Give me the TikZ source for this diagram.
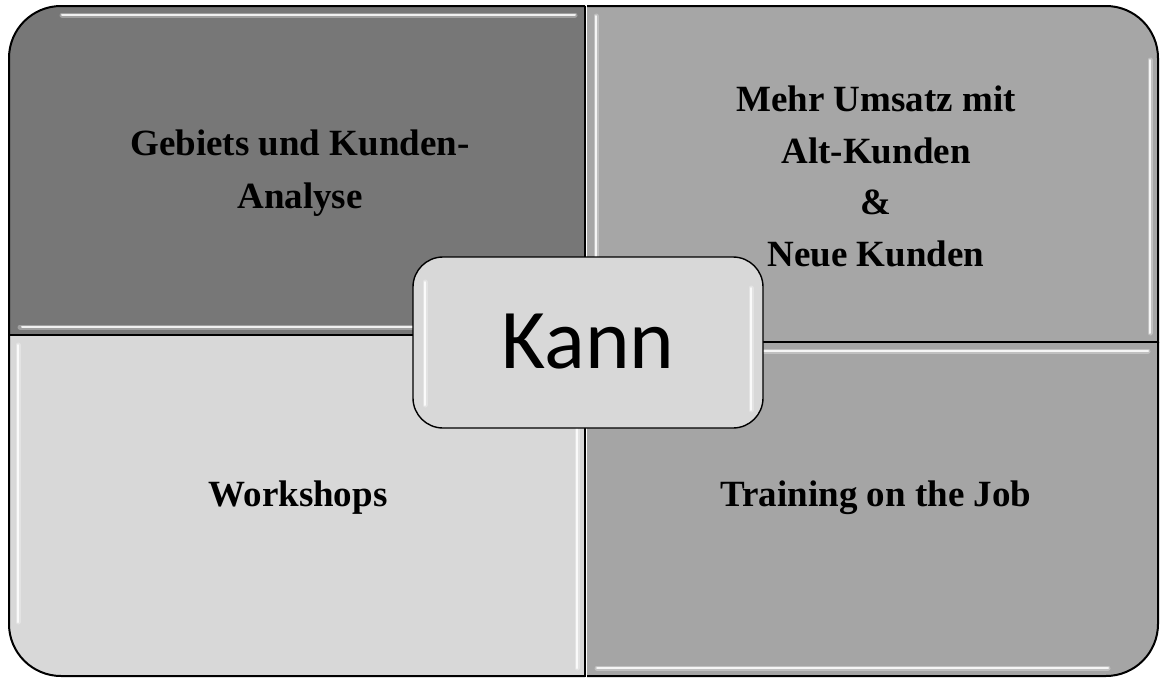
\documentclass[tikz,border=0pt]{standalone}
\usepackage{fontspec}
\setmainfont{Liberation Serif}
\newfontfamily\calib{Carlito}
\definecolor{qtl}{RGB}{119,119,119}
\definecolor{qtr}{RGB}{166,166,166}
\definecolor{qbl}{RGB}{216,216,216}
\definecolor{qbr}{RGB}{165,165,165}
\definecolor{qc}{RGB}{216,216,216}
\begin{document}
\begin{tikzpicture}[x=1pt,y=-1pt,
  qt/.style={font=\fontsize{37}{44}\selectfont\bfseries, inner sep=0pt, anchor=base, text=black},
  edge/.style={draw=black, line width=2pt},
  gloss/.style={draw=white, line width=5pt, opacity=0.3, line cap=round},
  glosscore/.style={draw=white, line width=2pt, opacity=0.85, line cap=round}]
\useasboundingbox (0,0) rectangle (1160,678);
\fill[white] (0,0) rectangle (1160,678);
% quadrants
\begin{scope}
  \clip (0,0) rectangle (585,335);
  \filldraw[fill=qtl, edge, rounded corners=52] (9,6) rectangle (900,700);
\end{scope}
\begin{scope}
  \clip (587,0) rectangle (1160,342);
  \filldraw[fill=qtr, edge, rounded corners=52] (200,6) rectangle (1158,700);
\end{scope}
\begin{scope}
  \clip (0,335) rectangle (585,678);
  \filldraw[fill=qbl, edge, rounded corners=52] (9,0) rectangle (900,676);
\end{scope}
\begin{scope}
  \clip (587,342) rectangle (1160,678);
  \filldraw[fill=qbr, edge, rounded corners=52] (200,0) rectangle (1158,676);
\end{scope}
% gloss highlights
\draw[gloss] (62,15) -- (575,15); \draw[glosscore] (62,15) -- (575,15);
\draw[gloss] (20,327) -- (575,327); \draw[glosscore] (22,327) -- (575,327);
\draw[gloss] (596,16) -- (596,333); \draw[glosscore] (596,16) -- (596,333);
\draw[gloss] (1150,60) -- (1150,333); \draw[glosscore] (1150,60) -- (1150,333);
\draw[gloss] (18,345) -- (18,622); \draw[glosscore] (18,345) -- (18,622);
\draw[gloss] (577,345) -- (577,668); \draw[glosscore] (577,345) -- (577,668);
\draw[gloss] (597,351) -- (1148,351); \draw[glosscore] (597,351) -- (1148,351);
\draw[gloss] (597,668) -- (1108,668); \draw[glosscore] (597,668) -- (1108,668);
% dividers
\draw[black, line width=1.6pt] (585,6) -- (585,677);
\draw[black, line width=1.6pt] (9,335) -- (585,335);
\draw[black, line width=1.6pt] (587,342) -- (1158,342);
% quadrant texts
\node[qt] (tl1) at (300,155) {Gebiets und Kunden-};
\node[qt] (tl2) at (300,208) {Analyse};
\node[qt] (tr1) at (876,111) {Mehr Umsatz mit};
\node[qt] (tr2) at (876,163) {Alt-Kunden};
\node[qt] (tr3) at (876,214) {\&};
\node[qt] (tr4) at (876,266) {Neue Kunden};
\node[qt] (bl) at (298,506) {Workshops};
\node[qt] (br) at (876,506) {Training on the Job};
% center box
\filldraw[fill=qc, draw=black, line width=1.4pt, rounded corners=30] (413,257) rectangle (763,428);
\draw[gloss] (425,282) -- (425,405); \draw[glosscore] (425,282) -- (425,405);
\draw[gloss] (751,288) -- (751,410); \draw[glosscore] (751,288) -- (751,410);
\node[font=\calib\fontsize{85}{100}\selectfont, inner sep=0pt, anchor=base] (kann) at (588,368) {Kann};
\end{tikzpicture}
\end{document}
